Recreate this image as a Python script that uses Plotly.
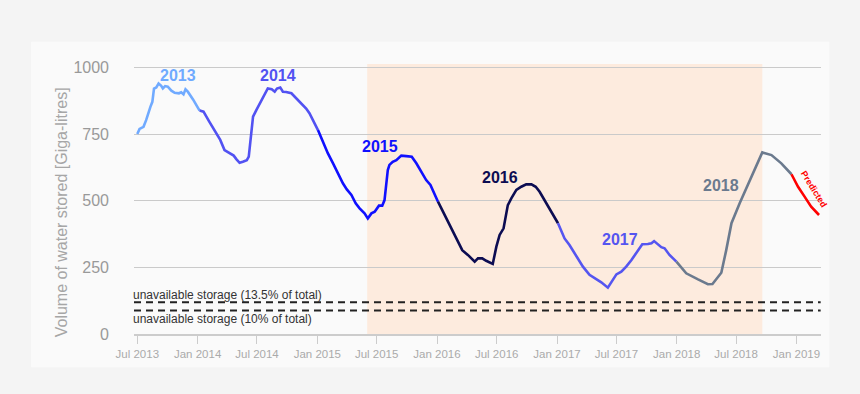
import plotly.graph_objects as go

# ---------------- data ----------------
d2013 = ["2013-07-01","2013-07-08","2013-07-20","2013-07-28","2013-08-10","2013-08-16","2013-08-21","2013-08-28",
         "2013-09-04","2013-09-12","2013-09-17","2013-09-24","2013-10-02","2013-10-13","2013-10-23","2013-11-05",
         "2013-11-12","2013-11-19","2013-11-25","2013-12-02","2013-12-18","2014-01-07"]
v2013 = [751,770,778,803,853,872,922,926,941,932,922,931,929,914,906,904,908,900,919,910,881,839]

d2014 = ["2014-01-07","2014-01-19","2014-02-06","2014-03-01","2014-03-11","2014-03-24","2014-04-08","2014-04-21",
         "2014-04-29","2014-05-09","2014-05-19","2014-05-31","2014-06-06","2014-06-19","2014-06-29","2014-07-12",
         "2014-07-19","2014-08-03","2014-08-15","2014-08-24","2014-08-31","2014-09-10","2014-09-18","2014-09-28",
         "2014-10-14","2014-10-29","2014-11-08","2014-11-18","2014-11-28","2014-12-08","2014-12-19","2015-01-03"]
v2014 = [839,835,797,747,729,691,679,670,657,643,647,653,666,816,841,872,891,922,919,910,922,926,910,909,
         904,885,869,860,847,829,803,766]

d2015 = ["2015-01-03","2015-01-18","2015-02-02","2015-02-18","2015-03-05","2015-03-20","2015-04-01","2015-04-15",
         "2015-04-28","2015-05-10","2015-05-25","2015-06-04","2015-06-15","2015-06-25","2015-07-08","2015-07-18",
         "2015-07-25","2015-08-04","2015-08-09","2015-08-19","2015-08-30","2015-09-14","2015-09-29","2015-10-16",
         "2015-10-30","2015-11-14","2015-11-29","2015-12-12","2015-12-25","2016-01-04"]
v2015 = [766,722,679,641,603,566,543,522,491,472,453,434,453,459,482,482,503,616,635,647,653,670,668,666,
         641,610,578,560,522,497]

d2016 = ["2016-01-04","2016-01-29","2016-02-24","2016-03-18","2016-04-04","2016-04-25","2016-05-05","2016-05-18",
         "2016-05-30","2016-06-19","2016-06-30","2016-07-10","2016-07-22","2016-08-04","2016-08-15","2016-08-30",
         "2016-09-14","2016-09-29","2016-10-15","2016-10-28","2016-11-09","2016-11-24","2016-12-15","2017-01-04"]
v2016 = [497,434,372,315,297,272,284,284,275,263,328,372,397,484,510,541,553,562,562,553,534,503,459,416]

d2017 = ["2017-01-04","2017-01-24","2017-02-08","2017-03-01","2017-03-21","2017-04-10","2017-04-26","2017-05-16",
         "2017-06-05","2017-06-20","2017-07-01","2017-07-16","2017-07-31","2017-08-16","2017-08-31","2017-09-18",
         "2017-10-05","2017-10-16","2017-10-24","2017-11-02","2017-11-15","2017-11-25","2017-12-10","2017-12-31"]
v2017 = [416,359,334,290,253,222,209,194,174,203,224,234,253,278,303,337,338,341,349,338,326,322,297,272]

d2018 = ["2017-12-31","2018-01-30","2018-03-07","2018-04-06","2018-04-20","2018-05-17","2018-06-01","2018-06-17",
         "2018-07-12","2018-08-12","2018-09-19","2018-10-17","2018-11-16","2018-12-17"]
v2018 = [272,228,205,187,188,230,315,416,491,578,682,672,641,600]

d_pred = ["2018-12-17","2019-01-06","2019-01-26","2019-02-15","2019-03-11"]
v_pred = [600,553,516,478,447]

unavail_dates = ["2013-06-21","2019-03-16"]
unavail_13_5 = 119
unavail_10 = 88
unavail_labels = ["unavailable storage (13.5% of total)", "unavailable storage (10% of total)"]

drought_start = "2015-06-02"
drought_end = "2018-09-19"

year_labels = ["2013","2014","2015","2016","2017","2018"]
year_label_x = ["2013-11-01","2014-09-02","2015-07-10","2016-07-10","2017-07-13","2018-05-17"]
year_label_y = [972,969,706,586,354,556]

x_range = ["2013-06-21","2019-03-17"]
y_range = [0,1014]

# ---------------- styles ----------------
seg_colors = ["#70aaff","#5252f2","#1010ff","#0c0c52","#5555f0","#6b7a8e"]
pred_color = "#ff0000"
FONT = "Arial, Liberation Sans, sans-serif"

fig = go.Figure()

segments = [(d2013,v2013),(d2014,v2014),(d2015,v2015),(d2016,v2016),(d2017,v2017),(d2018,v2018)]
for (d,v),c in zip(segments,seg_colors):
    fig.add_trace(go.Scatter(x=d,y=v,mode="lines",line=dict(color=c,width=2.6),
                             showlegend=False,hoverinfo="skip"))
fig.add_trace(go.Scatter(x=d_pred,y=v_pred,mode="lines",line=dict(color=pred_color,width=2.6),
                         showlegend=False,hoverinfo="skip"))

for val in (unavail_13_5, unavail_10):
    fig.add_trace(go.Scatter(x=unavail_dates,y=[val,val],mode="lines",
                             line=dict(color="#222222",width=2,dash="7px,5px"),
                             showlegend=False,hoverinfo="skip",cliponaxis=False))

# card background
fig.add_shape(type="rect",xref="paper",yref="paper",x0=-0.1499,x1=1.0121,y0=-0.1236,y1=1.0825,
              fillcolor="#fafafa",line=dict(width=0),layer="below")
# drought shading
fig.add_shape(type="rect",xref="x",yref="y",x0=drought_start,x1=drought_end,y0=y_range[0],y1=y_range[1],
              fillcolor="rgb(253,235,222)",line=dict(width=0),layer="below")

for t,x,y,c in zip(year_labels,year_label_x,year_label_y,seg_colors):
    fig.add_annotation(x=x,y=y,text="<b>%s</b>"%t,showarrow=False,
                       font=dict(family=FONT,size=16,color=c),xanchor="center",yanchor="middle")

fig.add_annotation(x=unavail_dates[0],y=unavail_13_5,text=unavail_labels[0],showarrow=False,
                   xanchor="left",yanchor="bottom",xshift=-3,yshift=-2,
                   font=dict(family=FONT,size=12,color="#333333"))
fig.add_annotation(x=unavail_dates[0],y=unavail_10,text=unavail_labels[1],showarrow=False,
                   xanchor="left",yanchor="top",xshift=-3,yshift=1,
                   font=dict(family=FONT,size=12,color="#333333"))

fig.add_annotation(x="2019-02-04",y=528,text="<b>Predicted</b>",showarrow=False,textangle=58,
                   xshift=6,yshift=4,font=dict(family=FONT,size=9,color=pred_color))

fig.add_annotation(xref="paper",yref="paper",x=-0.1063,y=0.4506,text="Volume of water stored [Giga-litres]",
                   textangle=-90,showarrow=False,xanchor="center",yanchor="middle",
                   font=dict(family=FONT,size=16,color="#a6a6a6"))

fig.update_layout(
    width=860,height=394,
    margin=dict(l=134,r=39,t=64,b=60),
    paper_bgcolor="#f4f4f4",
    plot_bgcolor="rgba(0,0,0,0)",
    font=dict(family=FONT),
    xaxis=dict(type="date",range=x_range,tick0="2013-07-01",dtick="M6",tickformat="%b %Y",
               showgrid=False,zeroline=False,showline=True,linecolor="#cccccc",linewidth=1.5,
               ticks="outside",ticklen=8,tickcolor="#cccccc",tickwidth=1,
               tickfont=dict(family=FONT,size=11.5,color="#aaaaaa")),
    yaxis=dict(range=y_range,tickvals=[0,250,500,750,1000],showgrid=True,gridcolor="#cacaca",gridwidth=1,
               zeroline=False,showline=False,ticks="",ticklabelstandoff=24,
               tickfont=dict(family=FONT,size=16,color="#999999")),
)

fig.write_html("out.html", config={"displayModeBar": False},
               post_script="document.body.style.margin='0';document.body.style.background='#f4f4f4';")
